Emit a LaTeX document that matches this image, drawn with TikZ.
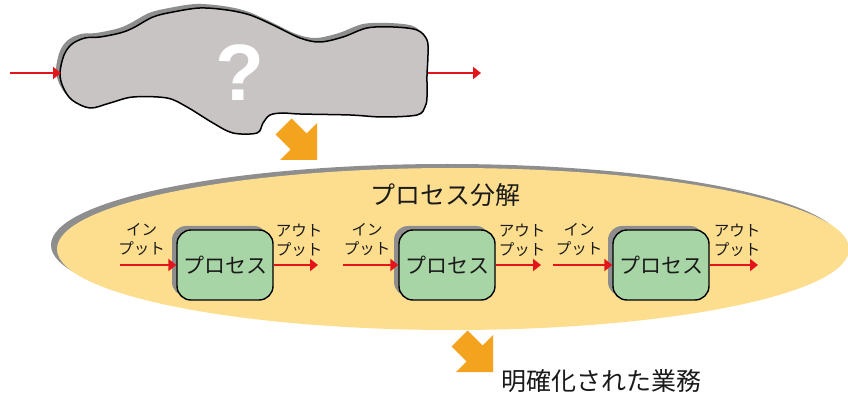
\documentclass[tikz,border=0pt]{standalone}
\usepackage{fontspec}
\newfontfamily\jp{Noto Sans CJK JP}
\newfontfamily\qfont{Liberation Sans}
\usetikzlibrary{arrows.meta,shadows,calc}
\definecolor{cloudfill}{HTML}{C9C4C4}
\definecolor{shadowgray}{HTML}{8E8E8E}
\definecolor{ellfill}{HTML}{FDDE8E}
\definecolor{boxgreen}{HTML}{A8D5A6}
\definecolor{orangeA}{HTML}{F3A31E}
\definecolor{redA}{HTML}{E3151B}
\definecolor{txt}{HTML}{1A1A1A}
\tikzset{
  procbox/.style={draw=black, line width=1.4pt, fill=boxgreen, rounded corners=14pt,
    minimum width=96pt, minimum height=70pt, inner sep=0pt, text=txt,
    font=\jp\fontsize{21}{21}\selectfont,
    general shadow={fill=shadowgray, shadow xshift=-5pt, shadow yshift=4pt}},
  redarrow/.style={draw=redA, line width=2pt, -{Triangle[length=8pt,width=12pt]}},
  iolabel/.style={align=center, inner sep=0pt, text=txt, font=\jp\fontsize{15.5}{19}\selectfont},
  bigarrow/.pic={\fill[orangeA] (0,0) -- (0,-37) -- (-10.5,-26.5) -- (-25.5,-41.5) -- (-41.5,-25.5) -- (-26.5,-10.5) -- (-37,0) -- cycle;}
}
\begin{document}
\begin{tikzpicture}[x=1pt,y=-1pt]
\useasboundingbox[fill=white] (0,0) rectangle (848,395);
% orange arrow from cloud
\pic at (317,160) {bigarrow};
% cloud
\def\cloudpts{(60,73) (64,55) (72,44) (85,38) (100,37) (120,33) (133,28) (153,17) (173,12) (200,8) (227,10) (250,15) (273,25) (300,38) (320,42) (343,37) (367,28) (393,27) (417,30) (427,40) (428,55) (427,75) (427,97) (425,107) (417,115) (383,117) (350,115) (300,114) (283,113) (270,115) (263,123) (257,133) (233,133) (213,123) (187,107) (167,98) (133,97) (110,103) (90,108) (72,100) (63,87)}
\fill[shadowgray, shift={(-4,-4)}] plot[smooth cycle, tension=0.55] coordinates {\cloudpts};
\draw[fill=cloudfill, line width=1.5pt] plot[smooth cycle, tension=0.55] coordinates {\cloudpts};
\node[text=white, inner sep=0pt, font=\qfont\bfseries\fontsize{80}{80}\selectfont] (q) at (240,73) {?};
\coordinate (cin) at (10,73);
\coordinate (cl) at (61,73);
\coordinate (cr) at (428,73);
\coordinate (cout) at (481,73);
\draw[redarrow] (cin) -- (cl);
\draw[redarrow] (cr) -- (cout);
% ellipse
\fill[shadowgray] (447,245) ellipse [x radius=396pt, y radius=81pt];
\fill[ellfill] (453,249) ellipse [x radius=396pt, y radius=81pt];
\node[inner sep=0pt, text=txt, font=\jp\fontsize{25}{25}\selectfont] (title) at (445,195) {プロセス分解};
% processes
\node[procbox] (p1) at (225,265) {プロセス};
\node[procbox] (p2) at (447,265) {プロセス};
\node[procbox] (p3) at (661,265) {プロセス};
\coordinate (i1) at (120,265);
\coordinate (o1) at (318,265);
\coordinate (i2) at (343,265);
\coordinate (o2) at (541,265);
\coordinate (i3) at (553,265);
\coordinate (o3) at (758,265);
\draw[redarrow] (i1) -- (p1.west);
\draw[redarrow] (p1.east) -- (o1);
\draw[redarrow] (i2) -- (p2.west);
\draw[redarrow] (p2.east) -- (o2);
\draw[redarrow] (i3) -- (p3.west);
\draw[redarrow] (p3.east) -- (o3);
\node[iolabel] (l1) at (141.5,240) {イン\\プット};
\node[iolabel] (m1) at (299,240) {アウト\\プット};
\node[iolabel] (l2) at (367,240) {イン\\プット};
\node[iolabel] (m2) at (522,240) {アウト\\プット};
\node[iolabel] (l3) at (579,240) {イン\\プット};
\node[iolabel] (m3) at (737,240) {アウト\\プット};
% bottom
\pic at (493,372) {bigarrow};
\node[inner sep=0pt, text=txt, font=\jp\fontsize{25}{25}\selectfont] (res) at (601,381) {明確化された業務};
\end{tikzpicture}
\end{document}
